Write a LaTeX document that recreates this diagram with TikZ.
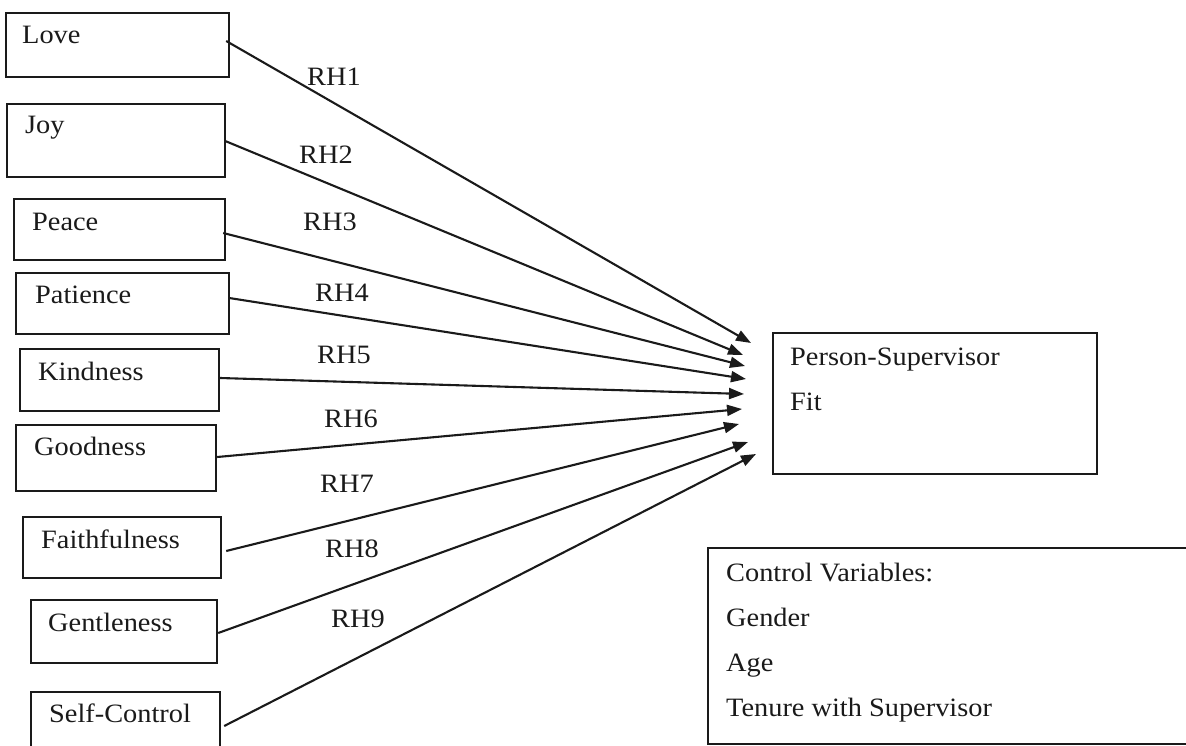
\documentclass[tikz,border=0pt]{standalone}
\usepackage{fontspec}
\setmainfont{Liberation Serif}[FakeStretch=1.07]
\usetikzlibrary{arrows.meta,calc}
\definecolor{ink}{HTML}{1A1A1A}
\tikzset{
  box/.style={draw=ink, line width=2.2pt, anchor=north west, inner sep=0pt},
  txt/.style={anchor=base west, inner sep=0pt, text=ink, font=\fontsize{26.5}{30}\selectfont},
  rh/.style={anchor=base, inner sep=0pt, text=ink, font=\fontsize{26.5}{30}\selectfont},
  arr/.style={draw=ink, line width=2.1pt, -{Triangle[length=15pt,width=11pt]}}
}
\begin{document}
\begin{tikzpicture}[x=1pt,y=-1pt]
\useasboundingbox (0,0) rectangle (1186,746);
\clip (0,0) rectangle (1186,746);
% source boxes
\node[box, minimum width=223pt, minimum height=64pt] (love) at (5,12) {};
\node[box, minimum width=218pt, minimum height=73pt] (joy) at (6,103) {};
\node[box, minimum width=211pt, minimum height=61pt] (peace) at (13,198) {};
\node[box, minimum width=213pt, minimum height=61pt] (patience) at (15,272) {};
\node[box, minimum width=199pt, minimum height=62pt] (kindness) at (19,348) {};
\node[box, minimum width=200pt, minimum height=66pt] (goodness) at (15,424) {};
\node[box, minimum width=198pt, minimum height=61pt] (faith) at (22,516) {};
\node[box, minimum width=186pt, minimum height=63pt] (gentle) at (30,599) {};
\node[box, minimum width=189pt, minimum height=70pt] (self) at (30,691) {};
% target boxes
\node[box, minimum width=324pt, minimum height=141pt] (psf) at (772,332) {};
\node[box, minimum width=480pt, minimum height=196pt] (ctrl) at (707,547) {};
% texts
\node[txt] (tlove) at (22,44) {Love};
\node[txt] (tjoy) at (25,134) {Joy};
\node[txt] (tpeace) at (32,230) {Peace};
\node[txt] (tpatience) at (35,303) {Patience};
\node[txt] (tkindness) at (38,380) {Kindness};
\node[txt] (tgoodness) at (34,455) {Goodness};
\node[txt] (tfaith) at (41,548) {Faithfulness};
\node[txt] (tgentle) at (48,631) {Gentleness};
\node[txt] (tself) at (49,722) {Self-Control};
\node[txt] (tpsf1) at (790,365) {Person-Supervisor};
\node[txt] (tpsf2) at (790,410) {Fit};
\node[txt] (tc1) at (726,581) {Control Variables:};
\node[txt] (tc2) at (726,626) {Gender};
\node[txt] (tc3) at (726,671) {Age};
\node[txt] (tc4) at (726,716) {Tenure with Supervisor};
% arrow start and end points
\coordinate (s1) at ($(love.east |- 0,41)+(-4,0)$);
\coordinate (s2) at ($(joy.east |- 0,141)+(-1,0)$);
\coordinate (s3) at ($(peace.east |- 0,233)+(-3,0)$);
\coordinate (s4) at ($(patience.east |- 0,298)+(-1,0)$);
\coordinate (s5) at (kindness.east |- 0,378);
\coordinate (s6) at (goodness.east |- 0,457);
\coordinate (s7) at ($(faith.east |- 0,551)+(4,0)$);
\coordinate (s8) at (gentle.east |- 0,633);
\coordinate (s9) at ($(self.east |- 0,726)+(3,0)$);
\coordinate (e1) at (751,343);
\coordinate (e2) at (743,355);
\coordinate (e3) at (745,366);
\coordinate (e4) at (746,379);
\coordinate (e5) at (744,394);
\coordinate (e6) at (742,409);
\coordinate (e7) at (739,424);
\coordinate (e8) at (748,442);
\coordinate (e9) at (756,454);
\draw[arr] (s1) -- (e1);
\draw[arr] (s2) -- (e2);
\draw[arr] (s3) -- (e3);
\draw[arr] (s4) -- (e4);
\draw[arr] (s5) -- (e5);
\draw[arr] (s6) -- (e6);
\draw[arr] (s7) -- (e7);
\draw[arr] (s8) -- (e8);
\draw[arr] (s9) -- (e9);
% labels
\node[rh] (rh1) at (334,86) {RH1};
\node[rh] (rh2) at (326,164) {RH2};
\node[rh] (rh3) at (330,231) {RH3};
\node[rh] (rh4) at (342,301) {RH4};
\node[rh] (rh5) at (344,363) {RH5};
\node[rh] (rh6) at (351,427) {RH6};
\node[rh] (rh7) at (347,492) {RH7};
\node[rh] (rh8) at (352,557) {RH8};
\node[rh] (rh9) at (358,627) {RH9};
\end{tikzpicture}
\end{document}
